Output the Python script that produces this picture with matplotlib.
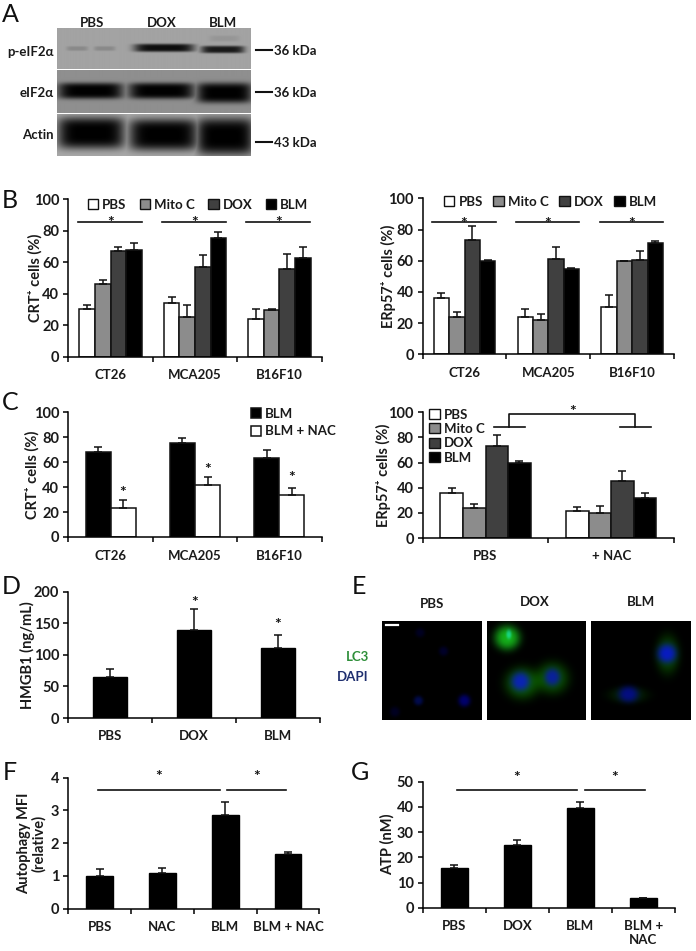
import numpy as np
import matplotlib
matplotlib.use('Agg')
import matplotlib.pyplot as plt
from matplotlib.patches import Patch

plt.rcParams['font.family'] = ['Lato', 'DejaVu Sans']
plt.rcParams['font.weight'] = 'bold'
plt.rcParams['axes.labelweight'] = 'bold'

W, H = 696, 951
FS = 9.5
YL = 10.5

# colours of the four treatments
c_pbs, c_mito, c_dox, c_blm = '#ffffff', '#8c8c8c', '#404040', '#000000'
treat_names = ['PBS', 'Mito C', 'DOX', 'BLM']
treat_cols = [c_pbs, c_mito, c_dox, c_blm]

# panel B left, CRT
lines3 = ['CT26', 'MCA205', 'B16F10']
crt_vals = [[30, 34, 24], [46.5, 25.5, 29.5], [67, 57, 56], [68, 75.5, 62.5]]
crt_tops = [[33, 38, 30.5], [49, 33, 30.5], [70, 64.5, 65.5], [72, 79.5, 69.5]]

# panel B right, ERp57
erp_vals = [[36, 24, 30.5], [24, 22, 59.5], [73, 61, 60.5], [60, 55, 71.5]]
erp_tops = [[39.5, 29, 38], [27, 26, 60], [82, 69, 66.5], [60.5, 55.5, 72.5]]

# panel C left
c_blm_vals = [68.5, 75.5, 63]
c_blm_tops = [72.5, 79.5, 69.5]
c_nac_vals = [23.5, 42, 34]
c_nac_tops = [30, 48, 39.5]
c_stars = [38, 56.7, 50]

# panel C right
nac_groups = ['PBS', '+ NAC']
cr_vals = [[36, 21.5], [24, 20], [73, 45], [60, 31.5]]
cr_tops = [[40, 24.5], [27, 25.5], [82, 53.5], [61, 36]]

# panel D
d_names = ['PBS', 'DOX', 'BLM']
d_vals = [65, 140, 111]
d_tops = [77, 172, 131]
d_stars = [None, 188, 152.5]

# panel F
f_names = ['PBS', 'NAC', 'BLM', 'BLM + NAC']
f_vals = [1.0, 1.1, 2.85, 1.68]
f_tops = [1.22, 1.24, 3.27, 1.72]

# panel G
g_names = ['PBS', 'DOX', 'BLM', 'BLM +\nNAC']
g_vals = [15.8, 24.8, 39.7, 3.7]
g_tops = [17, 27, 42, 3.9]

# blot bands: x centre, half width, y centre, half height, strength (zoomed px)
blot1 = [(230, 32, 145, 7, .16), (312, 32, 145, 7, .16), (490, 90, 143, 12, .92),
         (665, 65, 148, 11, .85), (670, 45, 115, 9, .08)]
blot2 = [(270, 97, 272, 24, 1.), (482, 98, 272, 24, 1.), (670, 82, 278, 30, 1.)]
blot3 = [(272, 100, 400, 46, 1.), (488, 103, 405, 46, 1.), (672, 85, 410, 54, 1.)]

# microscopy blobs: x, y, rx, ry, green, blue (zoomed px)
cells_pbs = [(210, 190, 14, 14, 0, .13), (280, 245, 14, 14, 0, .16), (205, 392, 14, 14, .05, .3),
             (342, 392, 18, 18, 0, .42), (135, 425, 15, 15, 0, .13)]
cells_dox = [(470, 205, 38, 36, .8, .1), (475, 195, 8, 14, .2, .4), (515, 340, 50, 46, .42, 0),
             (605, 325, 48, 46, .38, 0), (510, 335, 28, 28, 0, .7), (605, 322, 24, 26, 0, .6)]
cells_blm = [(952, 255, 34, 56, .32, 0), (950, 252, 28, 28, 0, .75),
             (835, 375, 58, 24, .16, 0), (835, 373, 30, 24, 0, .5)]


def make_ax(left, right, top, bottom):
    ax = fig.add_axes([left / W, 1 - bottom / H, (right - left) / W, (bottom - top) / H])
    return ax


def px_text(x, y, s, **kw):
    kw.setdefault('ha', 'center')
    kw.setdefault('va', 'center')
    kw.setdefault('fontsize', FS)
    kw.setdefault('color', '#1a1a1a')
    fig.text(x / W, 1 - y / H, s, **kw)


def style(ax, n, ymax, step, names, ylabel, lab_x):
    ax.set_xlim(0, n)
    ax.set_ylim(0, ymax)
    ax.spines['top'].set_visible(False)
    ax.spines['right'].set_visible(False)
    ax.spines['left'].set_linewidth(1.1)
    ax.spines['bottom'].set_linewidth(1.1)
    ax.set_yticks(np.arange(0, ymax + step, step))
    ax.set_xticks(np.arange(0, n + 1))
    ax.set_xticklabels([])
    ax.set_xticks(np.arange(n) + .5, minor=True)
    ax.set_xticklabels(names, minor=True, fontsize=FS, color='#1a1a1a')
    ax.tick_params(axis='x', which='major', length=3.5, width=1.1, direction='out')
    ax.tick_params(axis='x', which='minor', length=0, pad=9)
    ax.tick_params(axis='y', length=3.5, width=1.1, direction='out', labelsize=FS + 1,
                   labelcolor='#1a1a1a', pad=3)
    ax.set_ylabel(ylabel, fontsize=YL, color='#1a1a1a', linespacing=1.0)
    ax.yaxis.set_label_coords(lab_x, .5)


def grouped(ax, vals, tops, width):
    n = len(vals)
    x = np.arange(len(vals[0])) + .5
    for i in range(n):
        xi = x + (i - (n - 1) / 2) * width
        ax.bar(xi, vals[i], width, color=treat_cols[i], edgecolor='#111111', linewidth=1.1)
        for xx, v, t in zip(xi, vals[i], tops[i]):
            ax.errorbar(xx, v, yerr=[[0], [t - v]], color='#111111', capsize=2.8,
                        elinewidth=1.1, capthick=1.1)


def single(ax, vals, tops, width):
    x = np.arange(len(vals)) + .5
    ax.bar(x, vals, width, color='black', edgecolor='black', linewidth=1)
    for xx, v, t in zip(x, vals, tops):
        ax.errorbar(xx, v, yerr=[[0], [t - v]], color='#111111', capsize=2.8,
                    elinewidth=1.1, capthick=1.1)


def sig(ax, x0, x1, y, lw=1.2):
    ax.plot([x0, x1], [y, y], color='#111111', lw=lw, clip_on=False)


def star(ax, x, y):
    # the glyph sits high in its box, so pull it down a little
    ax.annotate('*', (x, y), xytext=(0, -2.5), textcoords='offset points', ha='center', va='center',
                fontsize=11.5, annotation_clip=False, color='#111111')


def treat_legend(ax, x, y, ncol, spacing, lab=.28):
    handles = [Patch(facecolor=c, edgecolor='#111111', linewidth=1) for c in treat_cols]
    return ax.legend(handles, treat_names, loc='center', bbox_to_anchor=(x, y), ncol=ncol,
                     frameon=False, fontsize=FS, handlelength=.8, handleheight=.8,
                     handletextpad=.3, columnspacing=spacing, labelspacing=lab,
                     borderpad=0, borderaxespad=0, labelcolor='#1a1a1a')


def blot_image(bg, bands, y0, y1, x0=170, x1=750):
    yy, xx = np.mgrid[y0:y1, x0:x1]
    dark = np.zeros(xx.shape, dtype=float)
    for xc, hw, yc, hh, a in bands:
        dark = np.maximum(dark, a * np.exp(-((xx - xc) / hw) ** 6) * np.exp(-(((yy - yc) / hh) ** 4)))
    return bg * (1 - dark)


def cell_image(cells, x0, x1, y0=153, y1=450):
    yy, xx = np.mgrid[y0:y1, x0:x1]
    img = np.zeros(xx.shape + (3,))
    for xc, yc, rx, ry, g, b in cells:
        blob = np.exp(-(((xx - xc) / rx) ** 2 + ((yy - yc) / ry) ** 2) ** 1.5)
        img[..., 1] += g * blob * .85
        img[..., 2] += b * blob
        img[..., 0] += .1 * g * blob
        if g == 0:
            img[..., 1] *= 1 - .6 * blob
    return np.clip(img, 0, 1)


fig = plt.figure(figsize=(W / 100, H / 100), dpi=100)

# panel A
for y0, y1, bg, bands in [(28, 69, .64, blot1), (70, 113, .56, blot2), (114, 156, .66, blot3)]:
    ax = make_ax(56.7, 250, y0, y1)
    ax.imshow(blot_image(bg, bands, y0 * 3, y1 * 3), cmap='gray', vmin=0, vmax=1, aspect='auto')
    ax.axis('off')
for x, s in zip([92, 162, 223], ['PBS', 'DOX', 'BLM']):
    px_text(x, 23, s)
for y, s in zip([52, 93, 135], ['p-eIF2α', 'eIF2α', 'Actin']):
    px_text(54, y, s, ha='right')
for y, s in zip([50, 92, 142], ['36 kDa', '36 kDa', '43 kDa']):
    fig.add_artist(plt.Line2D([256 / W, 272 / W], [1 - y / H, 1 - y / H], color='#111111', lw=1.5))
    px_text(274, y + 1, s, ha='left')

# panel B
ax = make_ax(68.3, 321.7, 199.3, 356.7)
grouped(ax, crt_vals, crt_tops, .184)
style(ax, 3, 100, 20, lines3, 'CRT⁺ cells (%)', -.101)
for a, b in [(.12, .87), (1.115, 1.866), (2.107, 2.866)]:
    sig(ax, a, b, 85.8)
    star(ax, (a + b) / 2, 87)
treat_legend(ax, .512, .964, 4, 1.0)

ax = make_ax(422.7, 674, 198.3, 354.3)
grouped(ax, erp_vals, erp_tops, .184)
style(ax, 3, 100, 20, lines3, 'ERp57⁺ cells (%)', -.108)
for a, b in [(.115, .87), (1.115, 1.87), (2.117, 2.87)]:
    sig(ax, a, b, 85)
    star(ax, (a + b) / 2, 86)
treat_legend(ax, .508, .978, 4, .8)

# panel C
ax = make_ax(68.3, 321.7, 412.3, 537)
x = np.arange(3) + .5
ax.bar(x - .148, c_blm_vals, .296, color='black', edgecolor='#111111', linewidth=1.1, label='BLM')
ax.bar(x + .148, c_nac_vals, .296, color='white', edgecolor='#111111', linewidth=1.1, label='BLM + NAC')
for xx, v, t in zip(x - .148, c_blm_vals, c_blm_tops):
    ax.errorbar(xx, v, yerr=[[0], [t - v]], color='#111111', capsize=2.8, elinewidth=1.1, capthick=1.1)
for xx, v, t, s in zip(x + .148, c_nac_vals, c_nac_tops, c_stars):
    ax.errorbar(xx, v, yerr=[[0], [t - v]], color='#111111', capsize=2.8, elinewidth=1.1, capthick=1.1)
    star(ax, xx, s)
style(ax, 3, 100, 20, lines3, 'CRT⁺ cells (%)', -.113)
ax.legend(loc='upper left', bbox_to_anchor=(.72, 1.035), frameon=False, fontsize=FS, handlelength=.8,
          handleheight=.8, handletextpad=.3, labelspacing=.4, borderpad=0, borderaxespad=0,
          labelcolor='#1a1a1a')

ax = make_ax(422.7, 674, 412.3, 538)
grouped(ax, cr_vals, cr_tops, .18)
style(ax, 2, 100, 20, nac_groups, 'ERp57⁺ cells (%)', -.125)
treat_legend(ax, .135, .81, 1, 1.0, lab=.18)
sig(ax, .568, .812, 88.3)
sig(ax, 1.57, 1.814, 88.3)
ax.plot([.69, .69, 1.692, 1.692], [88.3, 98.4, 98.4, 88.3], color='#111111', lw=1.2, clip_on=False)
star(ax, 1.19, 103)

# panel D
ax = make_ax(68.3, 320, 591.7, 718)
single(ax, d_vals, d_tops, .405)
style(ax, 3, 200, 50, d_names, 'HMGB1 (ng/mL)', -.132)
for i, s in enumerate(d_stars):
    if s is not None:
        star(ax, i + .5, s)

# panel E
for x0, x1, cells in [(97, 395, cells_pbs), (410, 706, cells_dox), (724, 1022, cells_blm)]:
    ax = make_ax(350 + x0 / 3, 350 + x1 / 3, 621, 720)
    ax.imshow(cell_image(cells, x0, x1), aspect='auto')
    ax.axis('off')
fig.add_artist(plt.Line2D([386 / W, 397.5 / W], [1 - 625 / H, 1 - 625 / H], color='white', lw=1.6))
for x, y, s in [(432, 604, 'PBS'), (535, 602, 'DOX'), (641, 602, 'BLM')]:
    px_text(x, y, s)
px_text(369, 657, 'LC3', ha='right', color='#2f8f3a')
px_text(369, 677, 'DAPI', ha='right', color='#1f2f6f')

# panel F
ax = make_ax(68.3, 319.3, 777.7, 908.7)
single(ax, f_vals, f_tops, .425)
style(ax, 4, 4, 1, f_names, 'Autophagy MFI\n(relative)', -.09)
sig(ax, .478, 2.417, 3.62)
sig(ax, 2.534, 3.469, 3.62)
star(ax, 1.445, 4.12)
star(ax, 3.0, 4.12)

# panel G
ax = make_ax(422.7, 675, 781.7, 907.7)
single(ax, g_vals, g_tops, .425)
style(ax, 4, 50, 10, g_names, 'ATP (nM)', -.11)
sig(ax, .54, 2.444, 46.7)
sig(ax, 2.566, 3.519, 46.7)
star(ax, 1.492, 53)
star(ax, 3.042, 53)

# panel letters
for x, y, s in [(10, 15, 'A'), (10, 201, 'B'), (10, 402, 'C'), (11, 587, 'D'), (359, 587, 'E'),
                (10, 773, 'F'), (360, 773, 'G')]:
    px_text(x, y, s, fontsize=18, weight='normal', color='#111111')

fig.savefig('out.png', dpi=100)
